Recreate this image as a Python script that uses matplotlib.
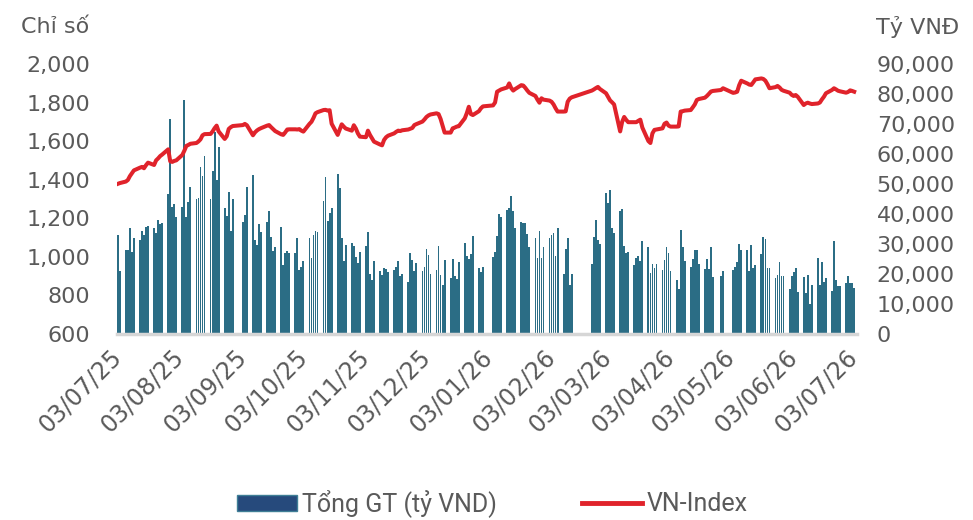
import matplotlib.pyplot as plt
import matplotlib.dates as mdates
from matplotlib.patches import Patch
from matplotlib.lines import Line2D
from matplotlib.ticker import FuncFormatter
import pandas as pd

# trading days (weekends + market holidays removed)
holidays = ['2025-09-01', '2025-09-02', '2026-01-01', '2026-01-02',
            '2026-02-16', '2026-02-17', '2026-02-18', '2026-02-19', '2026-02-20',
            '2026-04-27', '2026-04-30', '2026-05-01']
dates = pd.bdate_range('2025-07-03', '2026-07-03', freq='C', holidays=holidays)

# Tong GT (thousand ty VND), read week by week
trade_value = [
    32.8, 21.0,
    28.0, 28.0, 35.2, 27.4, 31.9,
    31.3, 34.4, 32.8, 35.6, 35.8,
    35.2, 33.6, 37.9, 36.7, 37.1,
    46.6, 71.6, 42.4, 43.2, 38.9,
    42.4, 78.0, 38.9, 44.1, 49.0,
    45.0, 45.2, 55.8, 52.8, 59.3,
    45.0, 54.3, 67.4, 51.3, 62.2,
    42.1, 39.3, 47.2, 34.3, 44.9,
    37.2, 39.7, 49.0,
    53.0, 31.3, 29.7, 36.7, 33.9,
    37.4, 41.0, 32.3, 27.7, 28.9,
    35.7, 23.0, 26.9, 27.7, 26.9,
    26.9, 31.9, 21.3, 22.4, 24.3,
    32.1, 25.4, 33.0, 34.2, 33.8,
    44.3, 52.2, 37.7, 40.2, 42.0,
    53.2, 48.6, 31.9, 24.3, 29.7,
    30.4, 29.4, 25.6, 23.6, 27.4,
    29.3, 33.9, 20.0, 17.8, 24.4,
    21.1, 19.6, 21.9, 21.6, 20.7,
    21.3, 22.4, 24.2, 19.3, 20.0,
    17.2, 26.9, 24.7, 21.1, 23.6,
    21.0, 22.2, 28.3, 26.3, 19.9,
    21.3, 29.3, 19.7, 16.2, 24.6,
    18.6, 25.0, 19.3, 18.3, 24.0,
    30.4, 26.0, 25.0, 26.6, 32.6,
    21.9, 20.6, 22.2,
    25.6, 27.2, 32.7, 39.9, 39.1,
    41.3, 42.1, 46.1, 40.8, 35.3,
    37.3, 36.9, 37.0, 33.3, 29.1,
    31.9, 25.4, 34.2, 25.4, 29.0,
    31.8, 33.1, 33.7, 26.0, 35.2,
    19.9, 28.3, 31.9, 16.3, 20.0,
    23.3, 32.4, 38.0, 31.3, 29.9,
    47.1, 43.6, 48.0, 35.2, 33.6,
    41.0, 41.7, 29.3, 27.1, 27.2,
    22.8, 25.2, 26.0, 24.3, 31.0,
    29.1, 20.4, 23.2, 21.9, 23.3,
    21.3, 24.7, 29.1, 27.1, 21.0,
    17.8, 15.0, 34.7, 28.8, 24.4,
    22.2, 24.9, 28.0, 27.8, 23.2,
    21.6, 25.0, 21.6, 29.1, 19.1,
    19.3, 20.8,
    21.3, 22.2, 23.8, 30.0, 28.0,
    28.0, 21.1, 29.7, 21.9, 22.8,
    26.6, 32.2, 31.7, 21.9, 22.1,
    18.7, 19.7, 24.1, 19.3, 19.3,
    14.9, 19.3, 20.6, 21.9, 13.8,
    18.8, 13.6, 19.6, 9.9, 16.2,
    25.2, 16.4, 24.0, 17.3, 18.6,
    14.4, 30.8, 18.0, 15.9, 15.9,
    17.1, 19.3, 17.1, 17.1, 15.4,
]
trade_value = [v * 1000 for v in trade_value]

vn_index = [
    1378, 1382,
    1390, 1398, 1418, 1433, 1448,
    1462, 1466, 1459, 1475, 1488,
    1476, 1500, 1510, 1522, 1530,
    1557, 1495, 1492, 1497, 1500,
    1528, 1550, 1575, 1580, 1586,
    1590, 1598, 1609, 1630, 1636,
    1637, 1650, 1667, 1680, 1650,
    1611, 1625, 1663, 1672, 1678,
    1683, 1689, 1682,
    1630, 1645, 1655, 1662, 1667,
    1680, 1683, 1672, 1662, 1652,
    1635, 1632, 1645, 1660, 1661,
    1661, 1660, 1662, 1654, 1649,
    1689, 1700, 1720, 1744, 1750,
    1761, 1762, 1758, 1760, 1690,
    1632, 1660, 1687, 1675, 1665,
    1654, 1682, 1665, 1640, 1623,
    1620, 1654, 1632, 1615, 1597,
    1582, 1578, 1606, 1620, 1628,
    1640, 1648, 1654, 1652, 1656,
    1660, 1664, 1668, 1683, 1688,
    1701, 1712, 1725, 1733, 1738,
    1744, 1740, 1715, 1680, 1644,
    1644, 1666, 1670, 1675, 1677,
    1718, 1745, 1778, 1740, 1735,
    1755, 1770, 1780,
    1785, 1800, 1856, 1862, 1868,
    1878, 1899, 1875, 1862, 1870,
    1890, 1888, 1876, 1862, 1850,
    1834, 1815, 1799, 1822, 1815,
    1810, 1804, 1790, 1770, 1753,
    1753, 1754, 1804, 1820, 1827,
    1862, 1868, 1875, 1881, 1870,
    1848, 1830, 1811, 1801, 1790,
    1650, 1700, 1725, 1710, 1698,
    1698, 1698, 1705, 1711, 1670,
    1600, 1590, 1640, 1658, 1660,
    1666, 1690, 1696, 1680, 1675,
    1675, 1676, 1753, 1755, 1758,
    1761, 1775, 1790, 1813, 1818,
    1825, 1834, 1845, 1857, 1860,
    1865, 1874,
    1850, 1852, 1856, 1890, 1913,
    1899, 1893, 1891, 1905, 1920,
    1925, 1922, 1913, 1895, 1874,
    1880, 1886, 1878, 1866, 1861,
    1851, 1840, 1834, 1839, 1830,
    1787, 1795, 1799, 1795, 1792,
    1795, 1800, 1816, 1830, 1848,
    1865, 1874, 1868, 1861, 1858,
    1851, 1855, 1863, 1860, 1856,
]

# tick on the 3rd of every month
month_ticks = pd.date_range('2025-07-01', '2026-07-01', freq='MS') + pd.Timedelta(days=2)

grey = '#5a5a5a'
bar_color = '#2b6d85'
red = '#e0232b'

fig = plt.figure(figsize=(9.73, 5.2), dpi=100)
ax = fig.add_axes([0.120, 0.358, 0.761, 0.519])
ax2 = ax.twinx()

# bars on the right axis, line on the left axis (drawn on top)
ax2.bar(dates, trade_value, width=0.9, color=bar_color, linewidth=0)
ax.plot(dates, vn_index, color=red, linewidth=2.9, solid_joinstyle='round')
ax.set_zorder(ax2.get_zorder() + 1)
ax.patch.set_visible(False)

ax.set_xlim(pd.Timestamp('2025-07-02 12:00'), pd.Timestamp('2026-07-04 12:00'))
ax.set_ylim(600, 2000)
ax.set_yticks(range(600, 2001, 200))
ax2.set_ylim(0, 90000)
ax2.set_yticks(range(0, 90001, 10000))

fmt = FuncFormatter(lambda v, p: f'{int(v):,}')
ax.yaxis.set_major_formatter(fmt)
ax2.yaxis.set_major_formatter(fmt)

ax.set_xticks(month_ticks)
ax.xaxis.set_major_formatter(mdates.DateFormatter('%d/%m/%y'))
for lbl in ax.get_xticklabels():
    lbl.set_rotation(45)
    lbl.set_ha('right')
    lbl.set_va('center')
    lbl.set_rotation_mode('anchor')

for a in (ax, ax2):
    for s in a.spines.values():
        s.set_visible(False)
    a.tick_params(length=0, labelsize=16, labelcolor=grey)
ax.tick_params(axis='y', pad=19)
ax.tick_params(axis='x', pad=14, labelsize=17)
ax2.tick_params(axis='y', pad=14)
ax.spines['bottom'].set_visible(True)
ax.spines['bottom'].set_color('#d6d6d6')
ax.spines['bottom'].set_linewidth(2.5)

fig.text(0.022, 0.948, 'Chỉ số', fontsize=16, color=grey, va='center')
fig.text(0.900, 0.948, 'Tỷ VNĐ', fontsize=16, color=grey, va='center')

handles = [Patch(facecolor='#264a7c', edgecolor='#3f7f96', linewidth=1),
           Line2D([], [], color=red, linewidth=3.5)]
fig.legend(handles, ['Tổng GT (tỷ VND)', 'VN-Index'], loc='center',
           bbox_to_anchor=(0.506, 0.032), ncol=2, frameon=False,
           handlelength=2.4, handleheight=0.6, handletextpad=0.2, columnspacing=3.4,
           prop={'family': ['Liberation Sans Narrow', 'Roboto', 'DejaVu Sans'], 'size': 18},
           labelcolor=grey)

fig.savefig('out.png', dpi=100)
